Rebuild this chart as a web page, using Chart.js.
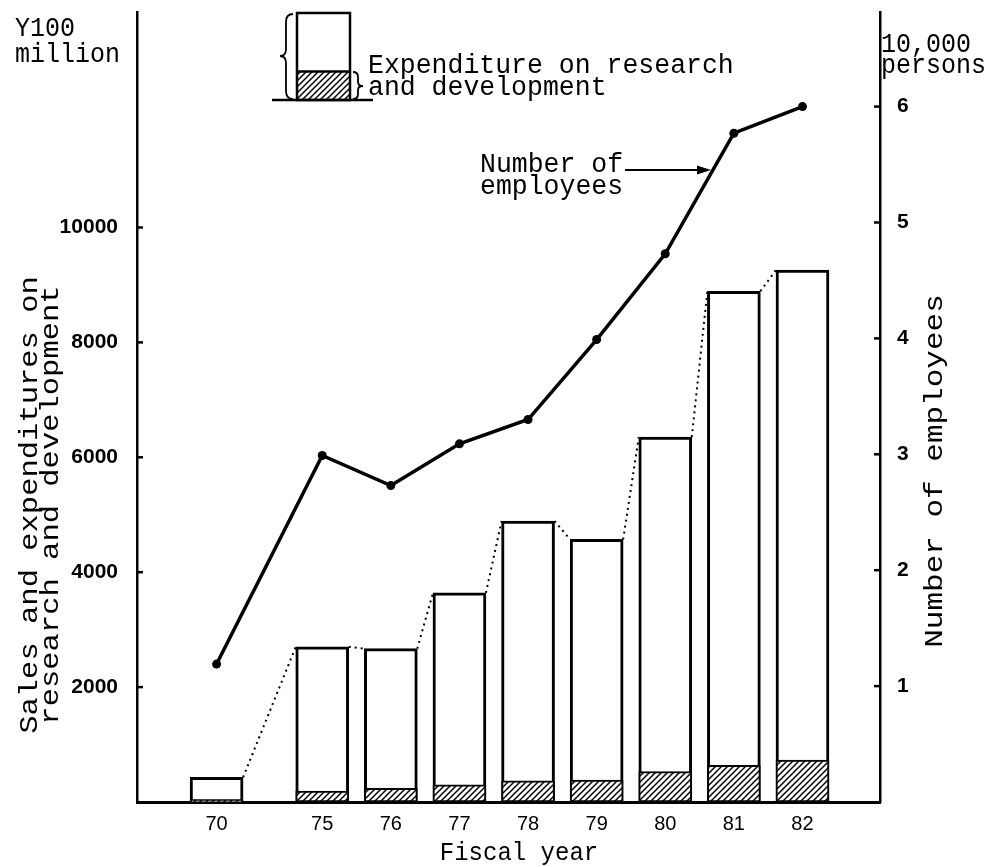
<!DOCTYPE html>
<html><head><meta charset="utf-8">
<script src="https://cdn.jsdelivr.net/npm/chart.js@4.4.1/dist/chart.umd.min.js"></script>
<style>html,body{margin:0;padding:0;background:#fff;}#wrap{width:993px;height:867px;position:relative;}</style>
</head><body><div id="wrap"><canvas id="c" width="993" height="867"></canvas></div>
<script>
// ---- data ----
const years = ['70', '75', '76', '77', '78', '79', '80', '81', '82'];
const sales = [430, 2700, 2670, 3640, 4890, 4570, 6350, 8890, 9260];     // Y100 million
const rnd = [30, 190, 240, 300, 370, 380, 530, 640, 730];                // Y100 million
const employees = [1.19, 2.99, 2.73, 3.09, 3.30, 3.99, 4.73, 5.77, 6.00]; // 10,000 persons
const leftTicks = [2000, 4000, 6000, 8000, 10000];
const rightTicks = [1, 2, 3, 4, 5, 6];

// broken axis: extra room between 70 and 75
const BREAK_GAP = 0.54;
const xPos = years.map((_, i) => i === 0 ? 0 : i + BREAK_GAP);

const MONO = '"Liberation Mono", "DejaVu Sans Mono", monospace';
const SANS = '"Liberation Sans", Arial, sans-serif';

function hatchPattern(ctx) {
  const s = 6;
  const c = document.createElement('canvas'); c.width = s; c.height = s;
  const g = c.getContext('2d');
  g.fillStyle = '#fff'; g.fillRect(0, 0, s, s);
  g.strokeStyle = '#000'; g.lineWidth = 1.5;
  g.beginPath();
  g.moveTo(0, s); g.lineTo(s, 0);
  g.moveTo(-1, 1); g.lineTo(1, -1);
  g.moveTo(s - 1, s + 1); g.lineTo(s + 1, s - 1);
  g.stroke();
  return ctx.createPattern(c, 'repeat');
}

function txt(ctx, s, x, y, o) {
  o = o || {};
  ctx.save();
  ctx.translate(x, y);
  if (o.rot) ctx.rotate(o.rot);
  ctx.scale(o.sx || 1, o.sy || 1);
  ctx.font = o.font;
  ctx.textAlign = o.align || 'left';
  ctx.textBaseline = o.base || 'alphabetic';
  ctx.fillStyle = '#000';
  ctx.fillText(s, 0, 0);
  ctx.restore();
}

const canvas = document.getElementById('c');
const ctx0 = canvas.getContext('2d');
const hatch = hatchPattern(ctx0);

const decor = {
  id: 'decor',
  afterDatasetsDraw(chart) {
    const ctx = chart.ctx;
    ctx.save();
    // dotted connectors between bar tops
    const bars = chart.getDatasetMeta(2).data;
    ctx.strokeStyle = '#000'; ctx.lineWidth = 2; ctx.setLineDash([2, 4]);
    for (let i = 0; i < bars.length - 1; i++) {
      const a = bars[i], b = bars[i + 1];
      ctx.beginPath();
      ctx.moveTo(a.x + a.width / 2, a.y);
      ctx.lineTo(b.x - b.width / 2, b.y);
      ctx.stroke();
    }
    ctx.restore();
  },
  afterDraw(chart) {
    const ctx = chart.ctx;
    const ca = chart.chartArea;
    const yL = chart.scales.yL, yR = chart.scales.yR;
    ctx.save();
    ctx.strokeStyle = '#000'; ctx.fillStyle = '#000';
    // inward tick marks
    ctx.lineWidth = 2.5;
    leftTicks.forEach(v => { const y = yL.getPixelForValue(v); ctx.beginPath(); ctx.moveTo(ca.left, y); ctx.lineTo(ca.left + 6, y); ctx.stroke(); });
    rightTicks.forEach(v => { const y = yR.getPixelForValue(v); ctx.beginPath(); ctx.moveTo(ca.right, y); ctx.lineTo(ca.right - 6, y); ctx.stroke(); });

    // legend symbol
    const bx = 297, bw = 53, bt = 13, bb = 100, bh = 71.5;
    ctx.fillStyle = '#fff'; ctx.fillRect(bx, bt, bw, bb - bt);
    ctx.fillStyle = hatch; ctx.fillRect(bx, bh, bw, bb - bh);
    ctx.fillStyle = '#000';
    ctx.lineWidth = 2.5; ctx.strokeStyle = '#000';
    ctx.strokeRect(bx, bt, bw, bb - bt);
    ctx.beginPath(); ctx.moveTo(bx, bh); ctx.lineTo(bx + bw, bh); ctx.stroke();
    ctx.beginPath(); ctx.moveTo(272, bb); ctx.lineTo(373, bb); ctx.stroke();
    // braces
    ctx.lineWidth = 1.8;
    ctx.beginPath();
    ctx.moveTo(293, 14); ctx.quadraticCurveTo(286, 14, 286, 22);
    ctx.lineTo(286, 49); ctx.quadraticCurveTo(286, 56, 280, 56);
    ctx.quadraticCurveTo(286, 56, 286, 63);
    ctx.lineTo(286, 91); ctx.quadraticCurveTo(286, 99, 293, 99);
    ctx.stroke();
    ctx.beginPath();
    ctx.moveTo(353, 72); ctx.quadraticCurveTo(358, 72, 358, 77);
    ctx.lineTo(358, 82); ctx.quadraticCurveTo(358, 86, 363, 86);
    ctx.quadraticCurveTo(358, 86, 358, 90);
    ctx.lineTo(358, 94); ctx.quadraticCurveTo(358, 99, 353, 99);
    ctx.stroke();

    const F26 = '26.5px ' + MONO, F25 = '25px ' + MONO, F24 = '24px ' + MONO;
    txt(ctx, 'Expenditure on research', 368, 73, { font: F26, sy: 1.05 });
    txt(ctx, 'and development', 368, 95, { font: F26, sy: 1.05 });

    // units
    txt(ctx, 'Y100', 15, 36, { font: F25, sy: 1.08 });
    txt(ctx, 'million', 15, 62, { font: F25, sy: 1.08 });
    txt(ctx, '10,000', 881, 52, { font: F25, sy: 1.08 });
    txt(ctx, 'persons', 881, 73, { font: F25, sy: 1.08 });

    // annotation
    txt(ctx, 'Number of', 480, 172, { font: F26, sy: 1.05 });
    txt(ctx, 'employees', 480, 194, { font: F26, sy: 1.05 });
    ctx.fillStyle = '#000'; ctx.strokeStyle = '#000';
    ctx.lineWidth = 2.2;
    ctx.beginPath(); ctx.moveTo(625, 170); ctx.lineTo(700, 170); ctx.stroke();
    ctx.beginPath(); ctx.moveTo(711, 170); ctx.lineTo(697, 165.5); ctx.lineTo(697, 174.5); ctx.closePath(); ctx.fill();

    // axis titles
    const R = -Math.PI / 2;
    txt(ctx, 'Sales and expenditures on', 30, 505, { font: F25, rot: R, sx: 1.22, align: 'center', base: 'middle' });
    txt(ctx, 'research and development', 51, 505, { font: F25, rot: R, sx: 1.22, align: 'center', base: 'middle' });
    txt(ctx, 'Number of employees', 935, 471, { font: F25, rot: R, sx: 1.24, align: 'center', base: 'middle' });
    txt(ctx, 'Fiscal year', 519, 853, { font: F24, sy: 1.08, align: 'center', base: 'middle' });
    ctx.restore();
  }
};

const noPad = s => { s.paddingTop = 0; s.paddingBottom = 0; s.paddingLeft = 0; s.paddingRight = 0; };

new Chart(ctx0, {
  type: 'bar',
  data: {
    datasets: [
      {
        type: 'line', label: 'Number of employees',
        data: employees.map((v, i) => ({ x: xPos[i], y: v })),
        yAxisID: 'yR', borderColor: '#000', borderWidth: 3.5,
        pointRadius: 4.5, pointBackgroundColor: '#000', pointBorderWidth: 0,
        tension: 0, order: 0
      },
      {
        type: 'bar', label: 'Expenditure on research and development',
        data: rnd.map((v, i) => ({ x: xPos[i], y: v })),
        yAxisID: 'yL', backgroundColor: hatch, borderColor: '#000', borderWidth: 2,
        borderSkipped: false, barThickness: 53, grouped: false, order: 1
      },
      {
        type: 'bar', label: 'Sales',
        data: sales.map((v, i) => ({ x: xPos[i], y: v })),
        yAxisID: 'yL', backgroundColor: '#fff', borderColor: '#000', borderWidth: 3,
        borderSkipped: false, barThickness: 53, grouped: false, order: 2
      }
    ]
  },
  options: {
    responsive: false, animation: false,
    layout: { padding: { top: 12, left: 0, right: 0, bottom: 0 } },
    plugins: { legend: { display: false }, tooltip: { enabled: false } },
    scales: {
      x: {
        type: 'linear', min: -1.16, max: 9.67, offset: false,
        afterBuildTicks: s => { s.ticks = xPos.map(v => ({ value: v })); },
        afterFit: s => { s.height = 65; noPad(s); },
        ticks: {
          autoSkip: false, maxRotation: 0, padding: 10, color: '#000',
          font: { family: SANS, size: 20 },
          callback: v => { const i = xPos.indexOf(v); return i >= 0 ? years[i] : ''; }
        },
        grid: { display: false, drawTicks: false, offset: false },
        border: { display: true, color: '#000', width: 3 }
      },
      yL: {
        type: 'linear', position: 'left', min: 0, max: 13751,
        afterBuildTicks: s => { s.ticks = leftTicks.map(v => ({ value: v })); },
        afterFit: s => { s.width = 137; noPad(s); },
        ticks: { padding: 19, color: '#000', font: { family: SANS, size: 21, weight: 'bold' }, callback: v => String(v) },
        grid: { display: false, drawTicks: false },
        border: { display: true, color: '#000', width: 2.5 }
      },
      yR: {
        type: 'linear', position: 'right', min: 0, max: 6.816,
        afterBuildTicks: s => { s.ticks = rightTicks.map(v => ({ value: v })); },
        afterFit: s => { s.width = 113; noPad(s); },
        ticks: { padding: 17, color: '#000', font: { family: SANS, size: 21, weight: 'bold' }, callback: v => String(v) },
        grid: { display: false, drawTicks: false },
        border: { display: true, color: '#000', width: 2.5 }
      }
    }
  },
  plugins: [decor]
});
</script></body></html>
